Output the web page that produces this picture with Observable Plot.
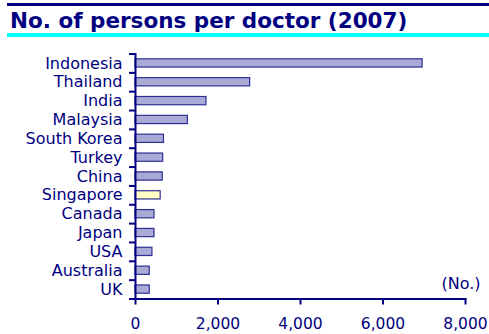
<!DOCTYPE html>
<html><head><meta charset="utf-8">
<script src="https://cdn.jsdelivr.net/npm/d3@7"></script>
<script src="https://cdn.jsdelivr.net/npm/@observablehq/plot@0.6"></script>
<style>
body{margin:0;background:#fff;font-family:"DejaVu Sans",Verdana,sans-serif;}
#wrap{position:relative;width:489px;height:334px;overflow:hidden;background:#fff}
#topline{position:absolute;left:7px;top:3px;width:482px;height:3px;background:#000080}
#title{position:absolute;left:10px;top:7px;font-weight:bold;font-size:21.5px;color:#000080;line-height:28px;white-space:nowrap}
#cyan{position:absolute;left:7px;top:33px;width:482px;height:4px;background:#00ffff}
#chart{position:absolute;left:0;top:40px}
</style></head><body>
<div id="wrap">
  <div id="topline"></div>
  <div id="title"></div>
  <div id="cyan"></div>
  <div id="chart"></div>
</div>
<script>
const titleText = "No. of persons per doctor (2007)";
const unitLabel = "(No.)";
const countries = ["Indonesia","Thailand","India","Malaysia","South Korea","Turkey","China","Singapore","Canada","Japan","USA","Australia","UK"];
const values = [6960, 2780, 1720, 1270, 690, 670, 660, 610, 460, 460, 410, 345, 345];
const highlight = "Singapore";
const xTicks = [0, 2000, 4000, 6000, 8000];

const navy = "#000080";
const data = countries.map((c, i) => ({country: c, value: values[i]}));

document.getElementById("title").textContent = titleText;

const W = 489, H = 294, mt = 13.5, mb = 35.5, ml = 135, mr = 24;
const step = (H - mt - mb) / countries.length;

const plot = Plot.plot({
  width: W, height: H,
  marginTop: mt, marginBottom: mb, marginLeft: ml, marginRight: mr,
  style: {fontFamily: "DejaVu Sans, Verdana, sans-serif", color: navy, background: "transparent"},
  x: {domain: [0, 8000], label: null},
  y: {domain: countries, padding: 0, round: false, label: null},
  marks: [
    Plot.barX(data, {
      y: "country", x: "value",
      fill: d => d.country === highlight ? "#ffffc4" : "#aaaad6",
      stroke: "#2e2e96", strokeWidth: 1.2,
      insetTop: 5.3, insetBottom: 5.3
    }),
    Plot.axisY({tickSize: 0, tickPadding: 13, fontSize: 16, fill: navy}),
    Plot.axisY({tickSize: 6, tickFormat: () => "", strokeWidth: 2, dy: -step / 2}),
    Plot.axisY({ticks: [countries[countries.length - 1]], tickSize: 6, tickFormat: () => "", strokeWidth: 2, dy: step / 2}),
    Plot.frame({anchor: "left", stroke: navy, strokeWidth: 2}),
    Plot.frame({anchor: "bottom", stroke: navy, strokeWidth: 2}),
    Plot.axisX({ticks: xTicks, tickSize: 6, tickPadding: 13, tickFormat: d3.format(","), fontSize: 15.5, strokeWidth: 2, fill: navy}),
    Plot.text([unitLabel], {frameAnchor: "bottom-right", dx: 15, dy: -10, textAnchor: "end", fontSize: 16, fill: navy})
  ]
});
document.getElementById("chart").appendChild(plot);
</script>
</body></html>
